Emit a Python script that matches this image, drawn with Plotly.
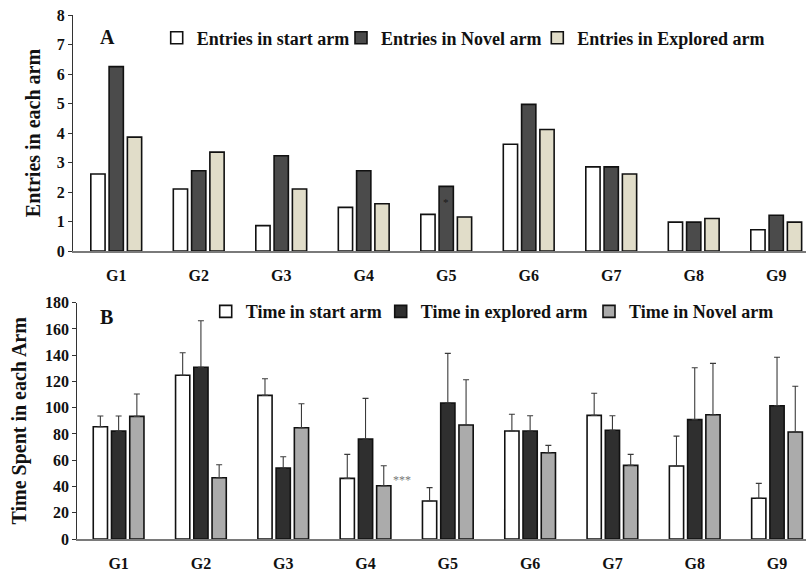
import plotly.graph_objects as go

groups = ["G1", "G2", "G3", "G4", "G5", "G6", "G7", "G8", "G9"]

# Panel A: number of entries in each arm
entries_start = [2.61, 2.10, 0.86, 1.48, 1.24, 3.62, 2.85, 0.98, 0.72]
entries_novel = [6.25, 2.72, 3.23, 2.72, 2.19, 4.97, 2.85, 0.98, 1.21]
entries_explored = [3.86, 3.35, 2.10, 1.60, 1.15, 4.12, 2.61, 1.10, 0.98]

# Panel B: time spent in each arm (mean and upper error)
time_start = [85.5, 124.7, 109.4, 46.2, 28.9, 82.3, 94.2, 55.6, 31.0]
time_start_err = [8.2, 17.2, 12.7, 18.3, 10.2, 12.7, 16.8, 22.8, 11.4]
time_explored = [82.2, 130.8, 54.1, 76.2, 103.6, 82.3, 82.8, 90.9, 101.5]
time_explored_err = [11.5, 35.5, 8.6, 30.9, 37.8, 11.6, 11.1, 39.6, 36.9]
time_novel = [93.4, 46.7, 84.8, 40.6, 86.8, 65.7, 56.1, 94.7, 81.5]
time_novel_err = [17.0, 9.9, 18.2, 15.2, 34.5, 5.6, 8.4, 39.1, 34.8]

W, H = 806, 572
FONT = "Liberation Serif"
OUTLINE = dict(color="#111111", width=1.6)

fig = go.Figure()

panel_a = [
    ("Entries in start arm", entries_start, "#ffffff", "legend"),
    ("Entries in Novel arm", entries_novel, "#4b4b4b", "legend2"),
    ("Entries in Explored arm", entries_explored, "#e1ddc9", "legend3"),
]
for name, vals, color, lg in panel_a:
    fig.add_trace(go.Bar(
        x=groups, y=vals, name=name, marker=dict(color=color, line=OUTLINE),
        xaxis="x", yaxis="y", legend=lg,
    ))

panel_b = [
    ("Time in start arm", time_start, time_start_err, "#ffffff", "legend4"),
    ("Time in explored arm", time_explored, time_explored_err, "#2f2f2f", "legend5"),
    ("Time in Novel arm", time_novel, time_novel_err, "#ababab", "legend6"),
]
for name, vals, errs, color, lg in panel_b:
    fig.add_trace(go.Bar(
        x=groups, y=vals, name=name, marker=dict(color=color, line=OUTLINE),
        error_y=dict(type="data", symmetric=False, array=errs,
                     arrayminus=[0] * len(errs), color="#3a3a3a",
                     thickness=1.1, width=3),
        xaxis="x2", yaxis="y2", legend=lg,
    ))

tick_font = dict(family=FONT, size=16, color="#111111", weight="bold")
title_font = dict(family=FONT, size=20, color="#111111", weight="bold")
legend_font = dict(family=FONT, size=18, color="#111111", weight="bold")


def px_x(p):
    return p / W


def px_y(p):
    return 1 - p / H


xa = dict(type="category", showline=True, linecolor="#7a7a7a", linewidth=1.5,
          ticks="", showgrid=False, zeroline=False, tickfont=tick_font,
          ticklabelstandoff=9)
ya = dict(showline=True, linecolor="#333333", linewidth=1.2, ticks="outside",
          ticklen=4, tickcolor="#333333", showgrid=False, zeroline=False,
          tickfont=tick_font)

fig.update_layout(
    width=W, height=H,
    margin=dict(l=0, r=0, t=0, b=0, autoexpand=False),
    paper_bgcolor="white", plot_bgcolor="white",
    barmode="group", bargap=0.335, bargroupgap=0.22,
    xaxis=dict(xa, domain=[px_x(73), 1], range=[-0.524, 8.361], anchor="y"),
    yaxis=dict(ya, domain=[px_y(251), px_y(15)], range=[0, 8], dtick=1,
               anchor="x",
               title=dict(text="Entries in each arm", font=title_font, standoff=10)),
    xaxis2=dict(xa, domain=[px_x(77.3), 1], range=[-0.502, 8.352], anchor="y2"),
    yaxis2=dict(ya, domain=[px_y(539), px_y(302.7)], range=[0, 180], dtick=20,
                anchor="x2",
                title=dict(text="Time Spent in each Arm", font=title_font, standoff=12)),
    showlegend=True,
)

legend_pos = {
    "legend": (156.7, 38), "legend2": (341, 38), "legend3": (537.3, 38),
    "legend4": (205.7, 311.7), "legend5": (380.7, 311.7), "legend6": (589, 311.7),
}
for key, (lx, ly) in legend_pos.items():
    fig.update_layout({key: dict(x=px_x(lx), y=px_y(ly), xanchor="left",
                                 yanchor="middle", orientation="h",
                                 bgcolor="rgba(0,0,0,0)", font=legend_font,
                                 borderwidth=0)})

# Panel letters
fig.add_annotation(text="A", x=px_x(98), y=px_y(24), xref="paper", yref="paper",
                   showarrow=False, font=dict(family=FONT, size=20, color="#111111", weight="bold"))
fig.add_annotation(text="B", x=px_x(98), y=px_y(317), xref="paper", yref="paper",
                   showarrow=False, font=dict(family=FONT, size=20, color="#111111", weight="bold"))

# Significance marks
fig.add_annotation(text="*", x="G5", y=1.67, xref="x", yref="y", showarrow=False,
                   font=dict(family=FONT, size=11, color="#1a1a1a"))
fig.add_annotation(text="***", x="G4", y=time_novel[3] + 4, xref="x2", yref="y2",
                   xshift=36, showarrow=False,
                   font=dict(family=FONT, size=12, color="#777777"))

fig.write_html("out.html")
